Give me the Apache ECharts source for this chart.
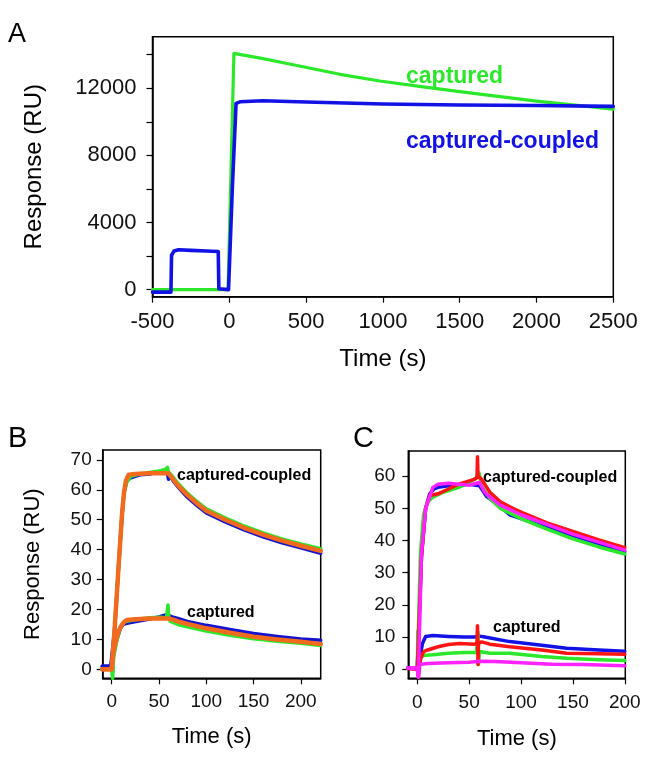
<!DOCTYPE html>
<html>
<head>
<meta charset="utf-8">
<script src="https://cdn.jsdelivr.net/npm/echarts@6/dist/echarts.min.js"></script>
<style>
html,body{margin:0;padding:0;background:#fff;}
#chart{width:649px;height:759px;}
</style>
</head>
<body>
<div id="chart"></div>
<script>
// ---------- Panel A ----------
const aCapturedT = [-500, -8, 30, 220, 400, 720, 980, 1250, 1500, 1750, 2000, 2250, 2500];
const aCapturedV = [0, 0, 14080, 13760, 13430, 12830, 12430, 12100, 11800, 11510, 11230, 10990, 10760];
const aCoupledT = [-500, -380, -376, -360, -330, -250, -150, -72, -68, -60, -5, 20, 44, 70, 220, 500, 1000, 1500, 2000, 2500];
const aCoupledV = [-150, -150, 2050, 2300, 2380, 2340, 2300, 2270, 50, 0, 0, 6100, 11100, 11190, 11250, 11180, 11060, 11000, 10970, 10920];
const aYTicks = [0, 2000, 4000, 6000, 8000, 10000, 12000, 14000];
const aYLabels = [0, 4000, 8000, 12000];
const aXLabels = [-500, 0, 500, 1000, 1500, 2000, 2500];

// ---------- Panel B ----------
const bFitCoupledT = [-10, 0, 3, 7, 11, 13, 15, 18, 25, 40, 60, 65, 70, 80, 90, 100, 120, 140, 160, 180, 200, 221];
const bFitCoupledV = [0, 0, 13, 33, 52, 59, 63, 65, 65.3, 65.5, 65.5, 63.5, 61.5, 58.3, 55.5, 53, 50, 47.3, 45, 43, 41.3, 39.6];
const bBlueCoupledT = [-10, -1, 0, 3, 7, 11, 13, 16, 20, 25, 30, 40, 50, 55, 59, 60, 61, 65, 70, 80, 90, 100, 120, 140, 160, 180, 200, 221];
const bBlueCoupledV = [1, 1, 0.5, 13, 33, 52, 59, 63, 64, 64.5, 65, 65.3, 66, 66.5, 65.5, 63.5, 65, 63, 61, 57.5, 54.8, 52.3, 49.3, 46.6, 44.3, 42.3, 40.6, 38.8];
const bGreenCoupledT = [-10, 0, 1, 3, 7, 11, 13, 16, 20, 30, 40, 50, 57, 59, 60, 62, 65, 70, 80, 90, 100, 120, 140, 160, 180, 200, 221];
const bGreenCoupledV = [0, 0, -1, 13, 33, 52, 59, 62.5, 64.5, 65.3, 65.8, 66.3, 66.8, 67.5, 66, 65.5, 64.2, 62.2, 58.9, 56.1, 53.6, 50.6, 47.9, 45.6, 43.6, 41.9, 40.3];
const bFitCapturedT = [-10, 0, 1.7, 4, 7, 10.6, 13, 16, 25, 40, 60, 65, 70, 80, 100, 125, 150, 175, 200, 221];
const bFitCapturedV = [0, 0, 5.4, 9, 12.5, 14.8, 15.8, 16.5, 16.7, 17, 17, 16.6, 16, 15.2, 13.7, 12.2, 10.9, 10, 9.2, 8.5];
const bBlueCapturedT = [-10, -1, 0, 2, 5, 9, 12, 15, 20, 30, 40, 50, 55, 58, 60, 62, 65, 70, 80, 100, 125, 150, 175, 200, 221];
const bBlueCapturedV = [1, 1, 0.5, 5, 9.5, 13.5, 15, 15.3, 15.6, 16.2, 16.8, 17.5, 18, 18.3, 17, 17.8, 17.4, 17, 16, 14.7, 13.3, 12, 11, 10.1, 9.7];
const bGreenCapturedT = [-10, 0, 1, 2, 5, 9, 12, 15, 20, 30, 40, 50, 58, 59.5, 60.5, 62, 70, 80, 100, 125, 150, 175, 200, 221];
const bGreenCapturedV = [0, 0, -3, 4, 9, 14, 15.5, 16, 16.3, 16.8, 17.2, 17.4, 17.2, 21.5, 17, 16, 15, 14.2, 12.8, 11.4, 10.2, 9.4, 8.7, 8];
const bYLabels = [0, 10, 20, 30, 40, 50, 60, 70];
const bXLabels = [0, 50, 100, 150, 200];

// ---------- Panel C ----------
const cBlueCoupledT = [-9, 0, 4, 8, 12, 16, 20, 30, 50, 60, 67, 80, 89, 100, 125, 150, 175, 200];
const cBlueCoupledV = [0.5, 0.5, 35, 50, 54.5, 56, 56.5, 57, 57.5, 57, 53.6, 50.5, 48, 46.8, 44, 41.5, 39, 36.5];
const cGreenCoupledT = [-9, 0, 1, 3, 6, 10, 15, 25, 40, 50, 57, 59.5, 62, 70, 80, 100, 125, 150, 175, 200];
const cGreenCoupledV = [0.3, 0.3, 12, 36, 48, 52, 53.5, 55, 56.5, 58, 59.5, 61, 57, 53, 50, 46.8, 43.5, 40.5, 38, 35.8];
const cRedCoupledT = [-9, 0, 4, 8, 12, 20, 30, 40, 50, 55, 57.5, 58, 58.5, 62, 70, 80, 92, 100, 125, 150, 175, 200];
const cRedCoupledV = [0.3, 0, 35, 50, 54, 54.5, 56, 57.5, 58.5, 59, 59.5, 66, 60, 59, 55, 52, 50, 48.8, 45.5, 42.8, 40.2, 37.8];
const cMagentaCoupledT = [-9, 0, 1, 4, 8, 12, 15, 20, 30, 40, 50, 57, 60, 65, 70, 80, 100, 125, 150, 175, 200];
const cMagentaCoupledV = [0.5, 0.5, -2, 36, 50, 53.6, 56.5, 57.5, 57.8, 57.5, 57.2, 57.8, 58, 55, 53.5, 51, 48, 45, 42, 39.5, 37];
const cBlueCapturedT = [-9, 0, 2, 5, 8, 15, 30, 45, 55, 60, 65, 89, 120, 144, 175, 200];
const cBlueCapturedV = [0.5, 0.5, 3, 8, 10.2, 10.5, 10.2, 10, 10, 10.3, 10, 8.6, 7.5, 6.5, 6, 5.6];
const cRedCapturedT = [-9, 0, 1, 3, 6, 10, 20, 30, 41, 55, 57.5, 58, 58.5, 59, 62, 70, 89, 120, 144, 175, 200];
const cRedCapturedV = [0.3, 0, -2.5, 3, 5.5, 6, 7, 7.7, 8, 7.8, 8, 13.5, 1.5, 8, 8.5, 7.8, 7, 6, 5, 4.8, 4.7];
const cGreenCapturedT = [-9, 0, 0.5, 1.5, 3, 6, 15, 30, 45, 57, 58.5, 59, 60, 70, 89, 120, 144, 175, 200];
const cGreenCapturedV = [0.3, 0, 12, 0, 3.5, 4.3, 4.5, 5, 5.2, 5.2, 11.5, 1.5, 5.5, 5, 5, 4, 3.4, 3, 2.7];
const cMagentaCapturedT = [-9, 0, 1, 2, 10, 30, 50, 60, 75, 100, 130, 160, 200];
const cMagentaCapturedV = [0.3, 0, -2.5, 1.5, 1.8, 2, 2.2, 2.5, 2.4, 2, 1.6, 1.5, 1.1];
const cYLabels = [0, 10, 20, 30, 40, 50, 60];
const cXLabels = [0, 50, 100, 150, 200];

// ---------- styling ----------
const FONT = "'Liberation Sans', Arial, sans-serif";
const GREEN = '#2be82b', BLUE = '#1212e6', ORANGE = '#f26a1d', RED = '#ff1414', MAGENTA = '#ff22ff';

function pairs(t, v) { return t.map((x, i) => [x, v[i]]); }
function line(name, t, v, color, width, idx) {
  return { name, type: 'line', xAxisIndex: idx, yAxisIndex: idx, data: pairs(t, v),
    showSymbol: false, symbol: 'none', smooth: false, animation: false,
    lineStyle: { color, width, join: 'round', cap: 'round' } };
}
const plain = v => String(v);
function xAx(idx, min, max, labels, fs, margin, nameGap) {
  return { type: 'value', gridIndex: idx, min, max,
    name: 'Time (s)', nameLocation: 'middle', nameGap,
    nameTextStyle: { fontFamily: FONT, fontSize: idx === 0 ? 24 : 22, color: '#000' },
    axisLine: { show: true, onZero: false, lineStyle: { color: '#000', width: 1.5 } },
    axisTick: { show: true, length: 6, lineStyle: { color: '#000', width: 1.2 }, customValues: labels },
    axisLabel: { fontFamily: FONT, fontSize: fs, color: '#111', margin, customValues: labels, formatter: plain },
    splitLine: { show: false } };
}
function yAx(idx, min, max, labels, ticks, fs, margin, name, nameGap, nfs) {
  return { type: 'value', gridIndex: idx, min, max,
    name, nameLocation: 'middle', nameGap,
    nameTextStyle: { fontFamily: FONT, fontSize: nfs, color: '#000' },
    axisLine: { show: true, onZero: false, lineStyle: { color: '#000', width: 1.5 } },
    axisTick: { show: true, length: 6, lineStyle: { color: '#000', width: 1.2 }, customValues: ticks },
    axisLabel: { fontFamily: FONT, fontSize: fs, color: '#111', margin, customValues: labels, formatter: plain },
    splitLine: { show: false } };
}
function txt(text, x, y, size, color, bold) {
  return { type: 'text', left: x, top: y, style: { text, fill: color, fontFamily: FONT,
    fontSize: size, fontWeight: bold ? 'bold' : 'normal', textVerticalAlign: 'middle' } };
}

const chart = echarts.init(document.getElementById('chart'), null, { renderer: 'canvas' });
const gridStyle = { show: true, borderColor: '#000', borderWidth: 1.5, backgroundColor: 'transparent', containLabel: false };

chart.setOption({
  animation: false,
  backgroundColor: '#fff',
  grid: [
    Object.assign({ left: 152.5, top: 36.7, width: 460.8, height: 260 }, gridStyle),
    Object.assign({ left: 102.7, top: 450, width: 218, height: 228.3 }, gridStyle),
    Object.assign({ left: 408.3, top: 451, width: 217, height: 227.3 }, gridStyle)
  ],
  xAxis: [
    xAx(0, -500, 2500, aXLabels, 22, 14, 51),
    xAx(1, -9.5, 221, bXLabels, 19, 14, 48),
    xAx(2, -8.7, 200.5, cXLabels, 19, 15, 50)
  ],
  yAxis: [
    yAx(0, -420, 15070, aYLabels, aYTicks, 22, 16, 'Response (RU)', 106, 24),
    yAx(1, -3, 73.3, bYLabels, bYLabels, 19, 11, 'Response (RU)', 59, 22),
    yAx(2, -2.8, 67.8, cYLabels, cYLabels, 19, 13, '', 40, 22)
  ],
  series: [
    line('A captured', aCapturedT, aCapturedV, GREEN, 3.2, 0),
    line('A captured-coupled', aCoupledT, aCoupledV, BLUE, 3.6, 0),

    line('B blue coupled', bBlueCoupledT, bBlueCoupledV, '#1414d0', 3.5, 1),
    line('B green coupled', bGreenCoupledT, bGreenCoupledV, GREEN, 3.5, 1),
    line('B blue captured', bBlueCapturedT, bBlueCapturedV, '#1414d0', 3.5, 1),
    line('B green captured', bGreenCapturedT, bGreenCapturedV, GREEN, 3.5, 1),
    line('B fit coupled', bFitCoupledT, bFitCoupledV, ORANGE, 4.5, 1),
    line('B fit captured', bFitCapturedT, bFitCapturedV, ORANGE, 4.5, 1),

    line('C blue coupled', cBlueCoupledT, cBlueCoupledV, BLUE, 3.5, 2),
    line('C blue captured', cBlueCapturedT, cBlueCapturedV, BLUE, 3.5, 2),
    line('C green coupled', cGreenCoupledT, cGreenCoupledV, GREEN, 3.5, 2),
    line('C green captured', cGreenCapturedT, cGreenCapturedV, GREEN, 3.5, 2),
    line('C red coupled', cRedCoupledT, cRedCoupledV, RED, 3.5, 2),
    line('C red captured', cRedCapturedT, cRedCapturedV, RED, 3.5, 2),
    line('C magenta coupled', cMagentaCoupledT, cMagentaCoupledV, MAGENTA, 3.5, 2),
    line('C magenta captured', cMagentaCapturedT, cMagentaCapturedV, MAGENTA, 3.5, 2)
  ],
  graphic: [
    txt('A', 8, 21, 27, '#000', false),
    txt('B', 8, 424, 29, '#000', false),
    txt('C', 353, 424, 29, '#000', false),
    txt('captured', 406, 65, 23, GREEN, true),
    txt('captured-coupled', 406, 130, 23, BLUE, true),
    txt('captured-coupled', 177, 468, 16, '#000', true),
    txt('captured', 187, 605, 16, '#000', true),
    txt('captured-coupled', 483, 470, 16, '#000', true),
    txt('captured', 493, 620, 16, '#000', true)
  ]
});
</script>
</body>
</html>
